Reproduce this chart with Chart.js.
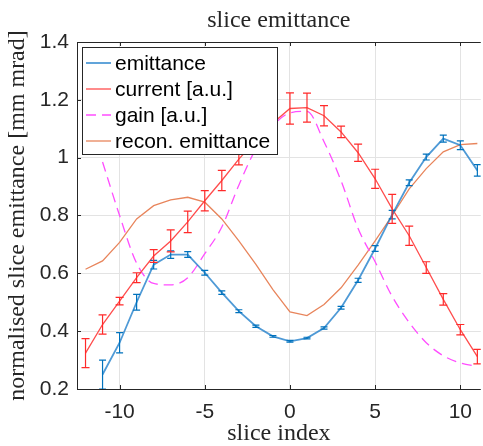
<!DOCTYPE html>
<html>
<head>
<meta charset="utf-8">
<script src="https://cdn.jsdelivr.net/npm/chart.js@4/dist/chart.umd.min.js"></script>
<style>
  html, body { margin: 0; padding: 0; background: #fff; }
  #wrap { width: 483px; height: 446px; }
</style>
</head>
<body>
<div id="wrap"><canvas id="sliceChart"></canvas></div>
<script>
// datos
const sliceEmit = [-11, -10, -9, -8, -7, -6, -5, -4, -3, -2, -1, 0, 1, 2, 3, 4, 5, 6, 7, 8, 9, 10, 11];
const emittance = [0.25, 0.36, 0.50, 0.63, 0.665, 0.665, 0.602, 0.533, 0.469, 0.417, 0.382, 0.365, 0.376, 0.411, 0.481, 0.576, 0.686, 0.803, 0.913, 1.002, 1.066, 1.043, 0.956];
const emittanceErr = [0.05, 0.035, 0.027, 0.015, 0.013, 0.01, 0.008, 0.006, 0.005, 0.004, 0.003, 0.003, 0.003, 0.004, 0.005, 0.007, 0.01, 0.015, 0.01, 0.01, 0.012, 0.015, 0.02];

const sliceCurrent = [-12, -11, -10, -9, -8, -7, -6, -5, -4, -3, -2, -1, 0, 1, 2, 3, 4, 5, 6, 7, 8, 9, 10, 11];
const current = [0.324, 0.423, 0.504, 0.585, 0.66, 0.712, 0.778, 0.851, 0.921, 0.995, 1.06, 1.12, 1.17, 1.173, 1.145, 1.089, 1.017, 0.927, 0.823, 0.73, 0.62, 0.51, 0.405, 0.312];
const currentErr = [0.05, 0.033, 0.013, 0.017, 0.022, 0.038, 0.037, 0.035, 0.035, 0.02, 0.03, 0.04, 0.054, 0.05, 0.035, 0.02, 0.03, 0.033, 0.05, 0.033, 0.02, 0.02, 0.018, 0.025];

const sliceGain = [-11, -10, -9, -8, -7, -6, -5, -4, -3, -2, -1, 0, 1, 2, 3, 4, 5, 6, 7, 8, 9, 10, 11];
const gain = [0.985, 0.80, 0.635, 0.565, 0.56, 0.585, 0.668, 0.76, 0.905, 1.03, 1.11, 1.155, 1.16, 1.055, 0.92, 0.755, 0.64, 0.52, 0.43, 0.36, 0.315, 0.29, 0.278];

const sliceRecon = [-12, -11, -10, -9, -8, -7, -6, -5, -4, -3, -2, -1, 0, 1, 2, 3, 4, 5, 6, 7, 8, 9, 10, 11];
const recon = [0.614, 0.643, 0.707, 0.788, 0.834, 0.854, 0.863, 0.846, 0.788, 0.712, 0.631, 0.544, 0.467, 0.454, 0.492, 0.55, 0.628, 0.712, 0.80, 0.892, 0.962, 1.02, 1.045, 1.049];

const xTicks = [-10, -5, 0, 5, 10];
const yTicks = [0.2, 0.4, 0.6, 0.8, 1.0, 1.2, 1.4];

const seriesLabels = ['emittance', 'current [a.u.]', 'gain [a.u.]', 'recon. emittance'];

const SANS = '"Liberation Sans", Arial, Helvetica, sans-serif';
const SERIF = '"Liberation Serif", "Times New Roman", serif';
const AXIS_COLOR = '#262626';

function toPoints(xs, ys) {
    return xs.map(function(x, i) { return {x: x, y: ys[i]}; });
}

// Barras de error dibujadas con las escalas del grafico
const errorBarsPlugin = {
    id: 'errorBars',
    afterDatasetsDraw: function(chart) {
        const ctx = chart.ctx;
        const xs = chart.scales.x;
        const ys = chart.scales.y;
        const area = chart.chartArea;
        const sets = [
            {x: sliceEmit, y: emittance, e: emittanceErr, color: '#0072BD', cap: 3.5},
            {x: sliceCurrent, y: current, e: currentErr, color: '#ff2a2a', cap: 4}
        ];
        ctx.save();
        ctx.beginPath();
        ctx.rect(area.left, area.top, area.right - area.left, area.bottom - area.top);
        ctx.clip();
        sets.forEach(function(s) {
            ctx.strokeStyle = s.color;
            ctx.lineWidth = 1.2;
            for (let i = 0; i < s.x.length; i++) {
                const px = xs.getPixelForValue(s.x[i]);
                const top = ys.getPixelForValue(s.y[i] + s.e[i]);
                const bot = ys.getPixelForValue(s.y[i] - s.e[i]);
                ctx.beginPath();
                ctx.moveTo(px, top); ctx.lineTo(px, bot);
                ctx.moveTo(px - s.cap, top); ctx.lineTo(px + s.cap, top);
                ctx.moveTo(px - s.cap, bot); ctx.lineTo(px + s.cap, bot);
                ctx.stroke();
            }
        });
        ctx.restore();
    }
};

// Marco, marcas hacia dentro, titulo y leyenda al estilo MATLAB
const frameLegendPlugin = {
    id: 'frameLegend',
    afterDraw: function(chart) {
        const ctx = chart.ctx;
        const a = chart.chartArea;
        const xs = chart.scales.x;
        const ys = chart.scales.y;
        ctx.save();
        ctx.strokeStyle = AXIS_COLOR;
        ctx.lineWidth = 1;
        ctx.beginPath();
        ctx.moveTo(a.left + 0.5, a.bottom + 0.5);
        ctx.lineTo(a.left + 0.5, a.top + 0.5);
        ctx.lineTo(a.right, a.top + 0.5);
        ctx.moveTo(a.left, a.bottom + 0.5);
        ctx.lineTo(a.right, a.bottom + 0.5);
        xTicks.forEach(function(t) {
            const p = Math.round(xs.getPixelForValue(t)) + 0.5;
            ctx.moveTo(p, a.bottom); ctx.lineTo(p, a.bottom - 4);
            ctx.moveTo(p, a.top); ctx.lineTo(p, a.top + 4);
        });
        yTicks.forEach(function(t) {
            const p = Math.round(ys.getPixelForValue(t)) + 0.5;
            ctx.moveTo(a.left, p); ctx.lineTo(a.left + 4, p);
        });
        ctx.stroke();

        // titulo
        ctx.fillStyle = AXIS_COLOR;
        ctx.font = '24px ' + SERIF;
        ctx.textAlign = 'center';
        ctx.textBaseline = 'middle';
        ctx.fillText('slice emittance', (a.left + a.right) / 2, 21);

        // leyenda
        const box = {left: 82, top: 47, width: 195, height: 107};
        ctx.fillStyle = '#ffffff';
        ctx.fillRect(box.left, box.top, box.width, box.height);
        ctx.strokeStyle = AXIS_COLOR;
        ctx.strokeRect(box.left + 0.5, box.top + 0.5, box.width, box.height);
        ctx.font = '21px ' + SANS;
        ctx.textAlign = 'left';
        ctx.textBaseline = 'middle';
        chart.data.datasets.forEach(function(ds, i) {
            const yy = 63 + i * 26;
            ctx.strokeStyle = ds.borderColor;
            ctx.lineWidth = ds.borderWidth;
            ctx.setLineDash(ds.borderDash || []);
            ctx.beginPath();
            ctx.moveTo(86, yy); ctx.lineTo(111, yy);
            ctx.stroke();
            ctx.setLineDash([]);
            ctx.fillStyle = '#000000';
            ctx.fillText(ds.label, 115, yy + 1);
        });
        ctx.restore();
    }
};

const config = {
    type: 'line',
    data: {
        datasets: [
            {
                label: seriesLabels[0],
                data: toPoints(sliceEmit, emittance),
                borderColor: 'rgba(20,120,200,0.75)',
                borderWidth: 1.8,
                pointRadius: 0
            },
            {
                label: seriesLabels[1],
                data: toPoints(sliceCurrent, current),
                borderColor: '#ff4d4d',
                borderWidth: 1.3,
                pointRadius: 0
            },
            {
                label: seriesLabels[2],
                data: toPoints(sliceGain, gain),
                borderColor: '#ff4dff',
                borderWidth: 1.3,
                borderDash: [10, 6],
                cubicInterpolationMode: 'monotone',
                pointRadius: 0
            },
            {
                label: seriesLabels[3],
                data: toPoints(sliceRecon, recon),
                borderColor: '#e8855c',
                borderWidth: 1.3,
                pointRadius: 0
            }
        ]
    },
    options: {
        responsive: true,
        maintainAspectRatio: false,
        animation: false,
        layout: { padding: { top: 42, left: 0, right: 0, bottom: 0 } },
        plugins: {
            legend: { display: false },
            title: { display: false },
            tooltip: { enabled: false }
        },
        scales: {
            x: {
                type: 'linear',
                min: -12.5,
                max: 11.2,
                afterBuildTicks: function(scale) {
                    scale.ticks = xTicks.map(function(v) { return {value: v}; });
                },
                afterFit: function(scale) { scale.height = 57; },
                grid: { color: '#e3e3e3', lineWidth: 1, drawTicks: false },
                border: { display: false },
                ticks: {
                    padding: 11,
                    color: AXIS_COLOR,
                    font: { family: SANS, size: 21 },
                    callback: function(v) { return String(v); }
                },
                title: {
                    display: true,
                    text: 'slice index',
                    color: AXIS_COLOR,
                    font: { family: SERIF, size: 24, lineHeight: 1 },
                    padding: { top: 0, bottom: 0 }
                }
            },
            y: {
                min: 0.2,
                max: 1.4,
                afterBuildTicks: function(scale) {
                    scale.ticks = yTicks.map(function(v) { return {value: v}; });
                },
                afterFit: function(scale) { scale.width = 77; },
                grid: { color: '#e3e3e3', lineWidth: 1, drawTicks: false },
                border: { display: false },
                ticks: {
                    padding: 8,
                    color: AXIS_COLOR,
                    font: { family: SANS, size: 21 },
                    callback: function(v) { return String(Math.round(v * 10) / 10); }
                },
                title: {
                    display: true,
                    text: 'normalised slice emittance [mm mrad]',
                    color: AXIS_COLOR,
                    font: { family: SERIF, size: 24, lineHeight: 1 },
                    padding: { top: 6, bottom: 0 }
                }
            }
        }
    },
    plugins: [errorBarsPlugin, frameLegendPlugin]
};

new Chart(document.getElementById('sliceChart').getContext('2d'), config);
</script>
</body>
</html>
